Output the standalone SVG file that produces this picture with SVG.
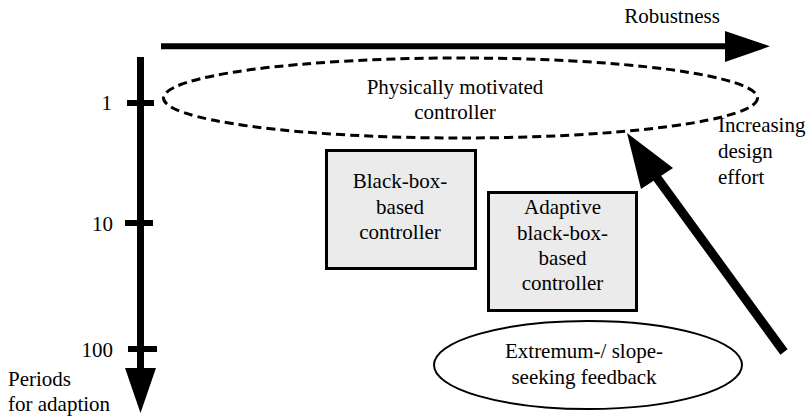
<svg xmlns="http://www.w3.org/2000/svg" width="807" height="417" viewBox="0 0 807 417">
<style>
text { font-family: "Liberation Serif", "Times New Roman", serif; font-size: 21px; fill: #000; }
.c { text-anchor: middle; }
.e { text-anchor: end; }
.box { fill: #ebebeb; stroke: #000; stroke-width: 3; }
.axis { stroke: #000; fill: none; }
</style>
<rect width="807" height="417" fill="#fff"/>
<g id="connectors">
  <g id="robustness-axis">
    <line class="axis" x1="161" y1="46.3" x2="728" y2="46.3" stroke-width="6"/>
    <polygon points="725,31 770,46.3 725,62" fill="#000"/>
    <text x="672" y="23" class="c">Robustness</text>
  </g>
  <g id="periods-axis">
    <line class="axis" x1="140.5" y1="57" x2="140.5" y2="370" stroke-width="7"/>
    <polygon points="125,368 156,368 140.5,413" fill="#000"/>
    <line class="axis" x1="127" y1="103" x2="154" y2="103" stroke-width="6"/>
    <line class="axis" x1="125" y1="223" x2="153" y2="223" stroke-width="6"/>
    <line class="axis" x1="128" y1="349" x2="157" y2="349" stroke-width="6"/>
    <text x="112" y="110" class="e">1</text>
    <text x="113" y="231" class="e">10</text>
    <text x="113" y="357" class="e">100</text>
    <text x="8" y="386">Periods</text>
    <text x="8" y="411">for adaption</text>
  </g>
  <g id="design-effort-arrow">
    <line class="axis" x1="784" y1="352" x2="655" y2="175" stroke-width="9"/>
    <polygon points="627,133 673,168 641,189" fill="#000"/>
    <text x="718" y="132">Increasing</text>
    <text x="718" y="158">design</text>
    <text x="718" y="184">effort</text>
  </g>
</g>
<g id="physically-motivated">
  <ellipse cx="460.5" cy="98" rx="297" ry="40" fill="none" stroke="#000" stroke-width="3" stroke-dasharray="9 5"/>
  <text x="455" y="94" class="c">Physically motivated</text>
  <text x="455" y="119" class="c">controller</text>
</g>
<g id="black-box">
  <rect class="box" x="326.5" y="150.5" width="149" height="118"/>
  <text x="400" y="188" class="c">Black-box-</text>
  <text x="400" y="214" class="c">based</text>
  <text x="400" y="239" class="c">controller</text>
</g>
<g id="adaptive-black-box">
  <rect class="box" x="488.5" y="192.5" width="148" height="118"/>
  <text x="562.5" y="214" class="c">Adaptive</text>
  <text x="562.5" y="240" class="c">black-box-</text>
  <text x="562.5" y="265" class="c">based</text>
  <text x="562.5" y="290" class="c">controller</text>
</g>
<g id="extremum-seeking">
  <ellipse cx="588" cy="365" rx="154" ry="44" fill="#fff" stroke="#000" stroke-width="2"/>
  <text x="584" y="358" class="c">Extremum-/ slope-</text>
  <text x="584" y="384" class="c">seeking feedback</text>
</g>
</svg>
